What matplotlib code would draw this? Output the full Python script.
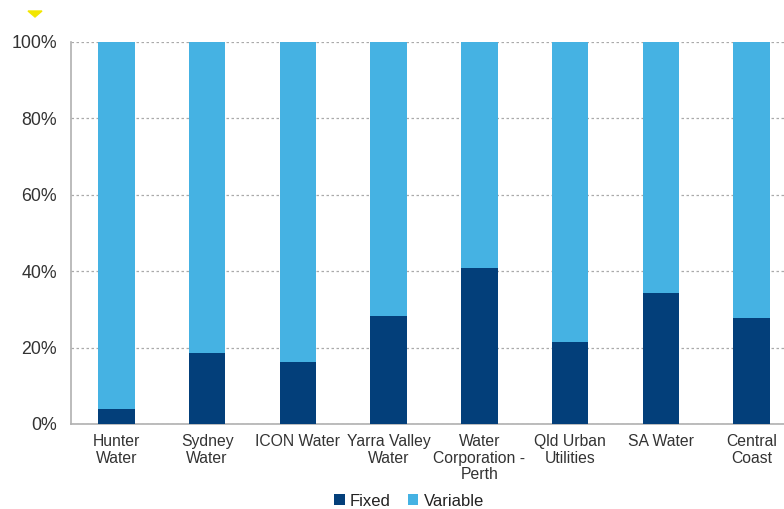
import numpy as np
import matplotlib
matplotlib.use("Agg")
import matplotlib.pyplot as plt
from matplotlib.patches import Polygon
from matplotlib.ticker import PercentFormatter

plt.rcParams["font.family"] = ["Liberation Sans", "DejaVu Sans"]

# data
utilities = ["Hunter\nWater", "Sydney\nWater", "ICON Water", "Yarra Valley\nWater",
             "Water\nCorporation -\nPerth", "Qld Urban\nUtilities", "SA Water", "Central\nCoast"]
fixed = [3.9, 18.6, 16.3, 28.4, 40.8, 21.5, 34.2, 27.7]
variable = [100 - f for f in fixed]

dark_blue = "#033F7A"
light_blue = "#45B2E3"

fig = plt.figure(figsize=(7.84, 5.09), dpi=100)
ax = fig.add_axes([0.0906, 0.167, 0.926, 0.7505])

x = np.arange(len(utilities))
ax.bar(x, fixed, width=0.4, color=dark_blue, label="Fixed", zorder=3)
ax.bar(x, variable, width=0.4, bottom=fixed, color=light_blue, label="Variable", zorder=3)

ax.set_xlim(-0.5, len(utilities) - 0.5)
ax.set_ylim(0, 100)
ax.set_yticks(np.arange(0, 101, 20))
ax.yaxis.set_major_formatter(PercentFormatter(decimals=0))
ax.set_xticks(x)
ax.set_xticklabels(utilities, fontsize=11.3, color="#333333", linespacing=1.15)
ax.tick_params(axis="y", length=0, labelsize=12.8, labelcolor="#333333", pad=10)
ax.tick_params(axis="x", length=0, pad=7)

ax.grid(axis="y", linestyle=(0, (2, 2)), color="#aaaaaa", linewidth=0.9, zorder=0)
for side in ["top", "right"]:
    ax.spines[side].set_visible(False)
for side in ["left", "bottom"]:
    ax.spines[side].set_color("#b0b0b0")
    ax.spines[side].set_linewidth(1.2)

fig.legend(loc="center", bbox_to_anchor=(409 / 784, 1 - 501 / 509), ncol=2,
           frameon=False, fontsize=12, handlelength=0.65, handleheight=0.65,
           handletextpad=0.3, columnspacing=1.0, labelcolor="#222222")

# small yellow marker cut off at the top left
fig.patches.append(Polygon([[28 / 784, 1 - 11 / 509], [42 / 784, 1 - 11 / 509], [35 / 784, 1 - 17 / 509]],
                           closed=True, transform=fig.transFigure, color="#f2e600"))

fig.savefig("out.png", dpi=100)
